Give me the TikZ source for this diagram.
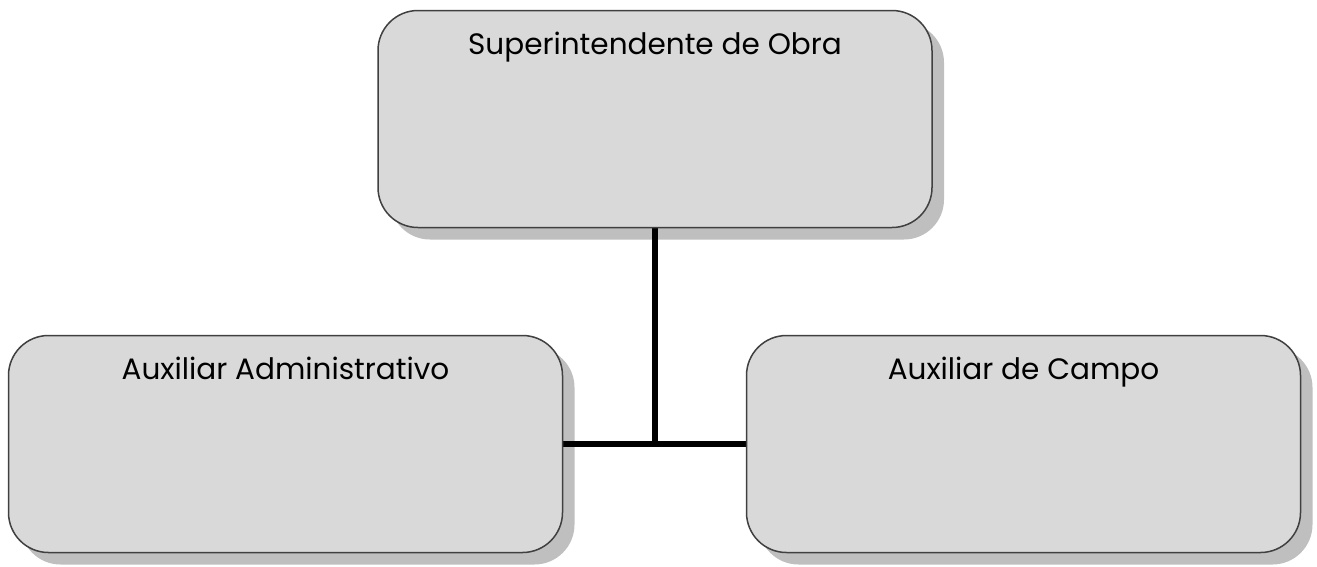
\documentclass[tikz,border=0pt]{standalone}
\usepackage{fontspec}
\setmainfont{Poppins}
\usetikzlibrary{shadows, backgrounds}

\tikzset{
    puesto/.style={draw=black!75, line width=1.5pt, fill=black!15, rounded corners=40pt,
        minimum width=554pt, inner sep=0pt, text height=44pt, text depth=173pt,
        font=\fontsize{29.5}{34}\selectfont,
        drop shadow={shadow xshift=12pt, shadow yshift=-12pt, fill=black, opacity=0.25}},
    enlace/.style={line width=6pt, black}
}

\begin{document}
\begin{tikzpicture}[x=1pt, y=-1pt]
    \useasboundingbox (0,0) rectangle (1317,566);
    \node[puesto] (super) at (655,119) {Superintendente de Obra};
    \node[puesto] (admin) at (285.5,444) {Auxiliar Administrativo};
    \node[puesto] (campo) at (1023.5,444) {Auxiliar de Campo};
    \begin{scope}[on background layer]
        \draw[enlace] (super.south) -- (super.south |- admin.east);
        \draw[enlace] (admin.east) -- (campo.west);
    \end{scope}
\end{tikzpicture}
\end{document}
